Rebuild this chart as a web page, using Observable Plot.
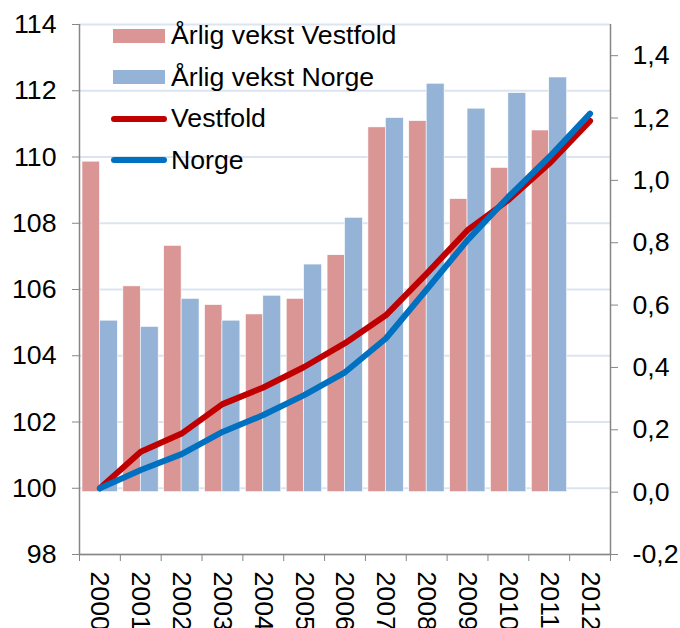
<!DOCTYPE html>
<html>
<head>
<meta charset="utf-8">
<script src="https://cdn.jsdelivr.net/npm/d3@7"></script>
<script src="https://cdn.jsdelivr.net/npm/@observablehq/plot@0.6"></script>
<style>
  html, body { margin: 0; padding: 0; background: white; }
  #wrap { position: relative; width: 680px; height: 628px; font-family: "Liberation Sans", Arial, sans-serif; }
  #legend { position: absolute; left: 111px; top: 15px; font-size: 26.7px; color: #000; }
  .row { display: flex; align-items: center; height: 41.5px; }
  .sw { width: 56px; display: flex; align-items: center; }
  .rect { width: 52px; height: 14px; margin-left: 2px; }
  .line { width: 56px; height: 6px; border-radius: 3px; }
  .lab { margin-left: 4px; white-space: nowrap; }
</style>
</head>
<body>
<div id="wrap">
  <div id="chart"></div>
  <div id="legend"></div>
</div>
<script>
// ---- data ----
const years = [2000, 2001, 2002, 2003, 2004, 2005, 2006, 2007, 2008, 2009, 2010, 2011, 2012];
const barYears = [2000, 2001, 2002, 2003, 2004, 2005, 2006, 2007, 2008, 2009, 2010, 2011];
const vekstVestfold = [1.06, 0.66, 0.79, 0.60, 0.57, 0.62, 0.76, 1.17, 1.19, 0.94, 1.04, 1.16];
const vekstNorge = [0.55, 0.53, 0.62, 0.55, 0.63, 0.73, 0.88, 1.20, 1.31, 1.23, 1.28, 1.33];
const indeksVestfold = [100, 101.10, 101.65, 102.54, 103.04, 103.66, 104.38, 105.22, 106.48, 107.79, 108.70, 109.80, 111.09];
const indeksNorge = [100, 100.55, 101.03, 101.70, 102.21, 102.81, 103.50, 104.52, 106.00, 107.49, 108.80, 110.00, 111.31];
const leftTicks = [98, 100, 102, 104, 106, 108, 110, 112, 114];
const rightTicks = [-0.2, 0.0, 0.2, 0.4, 0.6, 0.8, 1.0, 1.2, 1.4];
const leftDomain = [98, 114];
const rightDomain = [-0.2, 1.5];
const seriesNames = ["Årlig vekst Vestfold", "Årlig vekst Norge", "Vestfold", "Norge"];
const colors = { barV: "#d99694", barN: "#95b3d7", lineV: "#c00000", lineN: "#0070c0" };

// right-axis values mapped into the left (index) scale
const toLeft = v => leftDomain[0] + (v - rightDomain[0]) * (leftDomain[1] - leftDomain[0]) / (rightDomain[1] - rightDomain[0]);
const fromLeft = d => rightDomain[0] + (d - leftDomain[0]) * (rightDomain[1] - rightDomain[0]) / (leftDomain[1] - leftDomain[0]);
const fmtRight = d => { const v = Math.round(fromLeft(d) * 10) / 10; return (v === 0 ? "0.0" : v.toFixed(1)).replace(".", ","); };

const bars = barYears.map((y, i) => ({ year: y, v: vekstVestfold[i], n: vekstNorge[i] }));
const idx = years.map((y, i) => ({ year: y, v: indeksVestfold[i], n: indeksNorge[i] }));
const edges = [...years.map(y => y - 0.5), years[years.length - 1] + 0.5];
const base = toLeft(0);
const grey = "#868686";
const fs = 26.7;

const chart = Plot.plot({
  width: 680,
  height: 628,
  marginLeft: 79,
  marginRight: 70,
  marginTop: 24,
  marginBottom: 74,
  style: { fontFamily: "Liberation Sans, Arial, sans-serif", fontSize: fs + "px", color: "#000", background: "white" },
  x: { type: "linear", domain: [edges[0], edges[edges.length - 1]], axis: null },
  y: { domain: leftDomain, axis: null },
  marks: [
    Plot.gridY({ ticks: leftTicks, stroke: "#dbe5f1", strokeOpacity: 1, strokeWidth: 2 }),
    Plot.rect(bars, { x1: d => d.year - 0.5, x2: d => d.year, y1: base, y2: d => toLeft(d.v), fill: colors.barV, insetLeft: 3, stroke: "white", strokeWidth: 0.6 }),
    Plot.rect(bars, { x1: d => d.year, x2: d => d.year + 0.5, y1: base, y2: d => toLeft(d.n), fill: colors.barN, insetRight: 2.5, stroke: "white", strokeWidth: 0.6 }),
    Plot.line(idx, { x: "year", y: "v", stroke: colors.lineV, strokeWidth: 6, strokeLinecap: "round", strokeLinejoin: "round" }),
    Plot.line(idx, { x: "year", y: "n", stroke: colors.lineN, strokeWidth: 6, strokeLinecap: "round", strokeLinejoin: "round" }),
    Plot.ruleX([edges[0], edges[edges.length - 1]], { stroke: grey, strokeWidth: 1.5 }),
    Plot.ruleY([leftDomain[0]], { stroke: grey, strokeWidth: 1.5 }),
    Plot.axisY({ ticks: leftTicks, anchor: "left", tickSize: 7, tickPadding: 16, stroke: grey, fill: "#000", fontSize: fs, label: null }),
    Plot.axisY({ ticks: rightTicks.map(toLeft), anchor: "right", tickSize: 7, tickPadding: 15, tickFormat: fmtRight, stroke: grey, fill: "#000", fontSize: fs, label: null }),
    Plot.axisX({ ticks: edges, anchor: "bottom", tickSize: 7, tickFormat: () => "", stroke: grey, label: null }),
    Plot.text(years, { x: d => d, frameAnchor: "bottom", dy: 17, rotate: 90, textAnchor: "start", lineAnchor: "middle", text: d => String(d), fontSize: fs, fill: "#000" })
  ]
});
document.getElementById("chart").appendChild(chart);

// legend (HTML overlay)
const legendItems = [
  { name: seriesNames[0], kind: "rect", color: colors.barV },
  { name: seriesNames[1], kind: "rect", color: colors.barN },
  { name: seriesNames[2], kind: "line", color: colors.lineV },
  { name: seriesNames[3], kind: "line", color: colors.lineN }
];
const leg = d3.select("#legend");
legendItems.forEach(it => {
  const row = leg.append("div").attr("class", "row");
  row.append("div").attr("class", "sw").append("div").attr("class", it.kind).style("background", it.color);
  row.append("div").attr("class", "lab").text(it.name);
});
</script>
</body>
</html>
